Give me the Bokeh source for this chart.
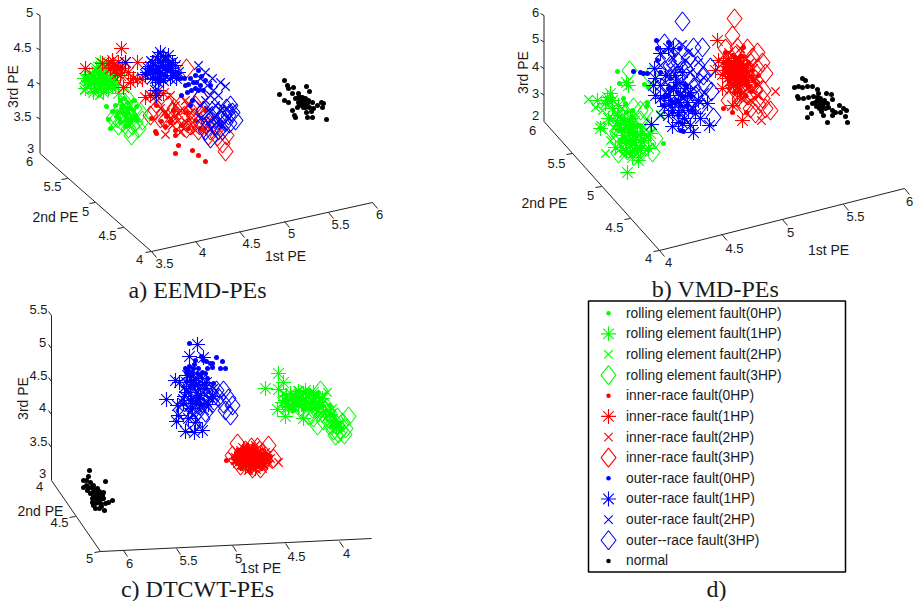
from bokeh.plotting import figure
from bokeh.models import Range1d
from bokeh.core.properties import value
from bokeh.embed import file_html
from bokeh.resources import INLINE

A_ROLL_0 = [(106,106),(108,119),(110,128),(125,115),(130,108),(118,112),(125,120),(135,115),(122,105),(128,125),(120,100),(132,120),(126,108),(115,105),(123,112),(129,118),(136,106),(119,118),(127,102),(133,110),(121,108),(125,126),(130,122),(116,116),(124,98),(137,120),(128,113),(120,122),(112,111),(134,100)]
A_ROLL_1 = [(100,62),(92,75),(85,88),(95,85),(105,78),(112,72),(98,72),(88,80),(108,88),(115,85),(103,92),(93,92),(120,70),(84,78),(110,65),(118,93),(100,82),(106,84),(94,80),(102,70),(97,78),(103,75),(110,78),(91,84),(98,88),(107,70),(114,80),(101,88),(96,68),(89,74),(104,82),(112,84)]
A_ROLL_2 = [(84,90),(92,88),(90,78),(100,85),(108,80),(95,70),(113,76),(105,90),(88,84),(100,76),(118,82),(96,92),(110,70),(103,65),(98,88),(106,74),(92,82),(102,80),(94,75),(110,86),(86,78),(116,72),(99,95),(104,68)]
A_ROLL_3 = [(131,135),(120,110),(135,122),(128,128),(117,118),(125,103),(140,112),(134,108),(122,122),(130,115),(113,118),(142,120),(126,97),(138,128),(118,125),(127,110),(124,116),(132,125)]
A_INNER_0 = [(178,145),(175,153),(192,150),(198,155),(205,161),(155,131),(156,133),(151,118),(161,121),(165,126),(166,116),(175,130),(175,135),(181,125),(156,105),(195,120),(173,110),(186,112),(205,110),(188,128),(200,128),(170,122)]
A_INNER_1 = [(121,48),(85,68),(102,63),(117,67),(137,62),(125,62),(137,79),(123,87),(145,97),(163,93),(113,65),(110,68),(118,62),(128,72),(120,75),(142,79),(133,78),(112,60),(115,70),(108,63),(122,68),(130,82),(117,73),(150,95),(158,90)]
A_INNER_2 = [(165,134),(150,95),(175,105),(185,100),(190,112),(170,118),(180,110),(160,108),(195,130),(205,120),(170,95),(210,128),(200,105),(186,122),(178,120),(165,112),(192,122),(183,128),(172,125),(198,115),(188,105),(175,115),(157,100),(203,130),(180,132)]
A_INNER_3 = [(186,68),(225,151),(217,136),(226,135),(160,118),(150,115),(172,112),(182,118),(190,125),(200,122),(205,115),(168,105),(180,105),(210,130),(195,105),(200,97),(222,143),(208,135),(155,110),(190,110),(176,120),(215,127),(198,130),(165,120),(186,128),(174,108),(194,118)]
A_OUTER_0 = [(181,95),(190,105),(198,70),(185,85),(193,82),(198,90),(190,78),(200,85),(205,80),(195,75),(187,92),(195,88),(203,90),(210,85),(180,78),(192,100),(176,76),(172,72),(188,84),(196,82),(191,90),(184,78),(178,73),(201,76)]
A_OUTER_1 = [(160,52),(155,65),(165,60),(150,72),(170,68),(160,72),(148,68),(175,65),(158,60),(165,75),(172,75),(155,90),(152,78),(145,74),(168,55),(178,72),(125,62),(156,95),(162,66),(155,72),(168,64),(160,62),(152,62),(163,80),(158,68),(163,56),(150,66),(172,62),(167,70),(155,78),(160,76),(147,72),(176,78),(153,70),(165,66),(157,56),(170,78),(158,82)]
A_OUTER_2 = [(198,65),(225,86),(220,82),(212,78),(205,72),(213,90),(207,85),(218,95),(200,78),(220,110),(205,100),(215,105),(228,118),(222,125),(210,120),(200,118),(232,108),(155,70),(165,68),(158,78),(150,60),(170,62),(162,74),(210,95),(216,116),(226,108),(208,110),(218,124)]
A_OUTER_3 = [(200,97),(205,130),(230,105),(228,115),(225,122),(218,112),(212,118),(222,130),(208,122),(235,120),(232,112),(215,125),(203,110),(226,108),(218,130),(210,138),(220,118),(214,108),(229,123),(224,114)]
A_NORMAL = [(284,80),(287,85),(279,94),(284,100),(288,88),(293,87),(306,86),(309,91),(298,93),(302,97),(300,100),(304,103),(298,102),(295,98),(292,93),(292,110),(294,115),(295,117),(306,112),(307,117),(312,117),(313,108),(317,105),(321,102),(323,103),(322,107),(326,119),(303,107),(307,103),(302,105),(297,107),(288,102),(308,100),(312,102),(305,98),(298,97),(302,102),(300,103),(305,107),(309,107),(303,100),(300,97),(306,102),(299,105),(311,111)]

B_ROLL_0 = [(663,143),(617,71),(619,83),(644,84),(648,87),(647,102),(646,106),(623,98),(610,100),(625,103),(632,117),(617,123),(640,140),(633,133),(628,120),(636,125),(622,130),(630,140),(642,132),(626,112),(635,148),(620,140),(628,132),(633,125),(625,125),(630,128),(637,135),(624,136),(632,110),(640,125),(627,142),(618,130),(622,118),(634,142),(640,148),(630,152)]
B_ROLL_1 = [(626,82),(628,85),(627,172),(607,97),(610,93),(597,100),(612,100),(600,128),(615,147),(632,157),(638,160),(640,150),(625,143),(627,127),(650,133),(648,148),(617,115),(637,133),(622,135),(632,142),(630,128),(620,125),(636,145),(605,103),(612,108),(626,150),(634,150),(629,135),(644,140),(624,120),(618,105),(640,135),(608,118),(630,118)]
B_ROLL_2 = [(588,99),(595,107),(605,153),(600,125),(607,100),(618,117),(610,140),(632,132),(660,114),(638,150),(625,137),(613,127),(643,127),(623,153),(630,145),(635,120),(620,145),(628,125),(602,110),(615,135),(626,128),(636,138),(645,135),(612,118),(622,108),(633,152),(618,150)]
B_ROLL_3 = [(629,70),(650,75),(645,110),(655,138),(652,152),(618,153),(610,128),(633,107),(640,120),(627,150),(647,127),(617,133),(637,140),(625,113),(648,143),(632,125),(630,135),(622,122),(642,150),(635,130),(615,120),(640,110),(628,145)]
B_INNER_0 = [(723,108),(746,112),(725,52),(743,47),(732,112),(733,72),(737,68),(740,75),(730,62),(728,77),(743,65),(737,82),(732,55),(747,72),(737,63),(733,78),(740,67),(727,68),(747,80),(735,72),(730,70),(742,72),(738,77),(734,66),(744,78),(732,62),(738,58),(741,62),(725,63),(729,72),(736,75),(744,70),(750,76),(733,85),(739,70),(745,84),(727,60),(752,70),(731,66),(735,80),(741,82),(746,66),(729,82),(738,88),(748,86),(735,58),(742,56),(726,72),(753,80),(740,92),(756,84),(751,91),(745,95),(734,92),(729,88),(758,75),(748,62)]
B_INNER_1 = [(717,40),(742,120),(722,88),(718,60),(715,70),(723,62),(730,68),(737,75),(733,85),(743,65),(727,78),(740,85),(735,60),(732,105),(728,58),(736,68),(744,76),(730,76),(740,60),(725,70),(733,64),(739,72),(746,70),(728,66),(735,80),(742,80),(731,72),(722,74),(748,82),(737,92)]
B_INNER_2 = [(775,91),(761,120),(740,48),(750,62),(755,78),(747,88),(737,97),(728,52),(757,95),(743,73),(733,68),(753,68),(740,65),(730,75),(743,100),(736,58),(745,58),(738,86),(748,72),(732,82),(726,65),(741,78),(735,70),(752,88),(744,92),(758,84),(729,90),(750,100),(736,104)]
B_INNER_3 = [(734,18),(732,35),(757,52),(762,62),(765,73),(763,90),(770,110),(765,108),(755,113),(752,57),(752,82),(737,47),(747,48),(757,68),(762,98),(743,105),(748,95),(725,48),(746,75),(741,90),(735,55),(755,90),(758,104),(750,108),(728,100)]
B_OUTER_0 = [(656,40),(668,42),(657,60),(657,48),(640,72),(643,73),(680,130),(683,131),(673,102),(663,105),(660,72),(670,78),(679,48),(687,105),(677,92),(667,95),(633,71),(647,73),(675,85),(683,96),(672,112),(690,95),(668,88),(680,105),(664,97),(692,110),(676,100),(685,84),(670,105),(678,115)]
B_OUTER_1 = [(660,53),(668,48),(673,48),(654,68),(653,85),(655,95),(651,124),(672,126),(682,123),(693,132),(709,125),(668,115),(690,125),(678,112),(695,113),(707,103),(660,98),(687,102),(665,75),(673,88),(680,95),(670,100),(685,88),(676,82),(668,95),(660,85),(678,102),(688,110),(698,100),(672,110),(664,106),(684,118),(700,118),(675,75),(682,72),(655,78),(690,92),(678,122)]
B_OUTER_2 = [(682,44),(672,57),(688,52),(660,65),(668,75),(680,82),(693,88),(703,77),(665,92),(675,105),(692,108),(683,98),(660,115),(700,102),(677,65),(690,72),(672,88),(684,90),(690,96),(678,100),(670,68),(698,62),(685,60),(665,82),(704,92),(695,78),(668,104),(682,110)]
B_OUTER_3 = [(682,21),(664,43),(693,47),(702,47),(688,58),(675,47),(710,67),(697,65),(711,91),(713,117),(703,75),(680,75),(670,65),(693,87),(683,90),(700,105),(675,95),(690,102),(685,68),(668,55),(705,85),(678,62),(695,95),(688,112)]
B_NORMAL = [(802,78),(805,80),(794,87),(798,86),(802,87),(807,86),(812,86),(817,89),(797,96),(798,98),(803,98),(808,97),(813,96),(818,93),(826,93),(831,94),(832,99),(807,107),(812,103),(817,100),(820,102),(823,103),(818,105),(822,107),(825,108),(828,107),(832,110),(839,105),(843,108),(846,110),(835,112),(840,112),(823,115),(811,113),(807,117),(827,122),(847,122),(845,116),(832,115),(817,97),(815,102),(820,98),(822,104),(819,108),(824,100),(816,106),(821,111),(827,103)]

C_ROLL_0 = [(320,398),(313,400),(302,400),(307,395),(287,403),(295,403),(322,405),(300,405),(310,408),(292,396),(298,398),(306,403),(316,395),(290,408),(326,410),(333,415),(338,422),(303,409),(312,403),(296,392),(285,398),(318,392),(329,405),(335,420),(341,428),(331,426),(293,410),(309,390)]
C_ROLL_1 = [(278,373),(265,388),(278,389),(283,382),(277,409),(285,416),(303,418),(285,400),(293,400),(303,393),(282,402),(290,393),(313,392),(298,405),(288,407),(308,397),(295,395),(318,402),(325,412),(300,398),(292,406),(310,404),(286,395),(305,390),(316,408),(322,398),(330,414),(336,426),(298,391)]
C_ROLL_2 = [(283,393),(292,402),(300,397),(308,402),(315,405),(322,395),(305,407),(295,408),(328,410),(320,413),(285,408),(310,392),(333,418),(327,392),(290,397),(298,390),(305,398),(314,398),(288,402),(302,404),(318,410),(325,418),(335,428),(330,422),(312,395),(296,400),(340,424),(332,408),(322,403)]
C_ROLL_3 = [(348,416),(344,434),(337,425),(340,430),(317,425),(330,420),(333,430),(323,420),(308,415),(320,390),(300,408),(337,417),(313,417),(342,422),(335,435),(327,412),(331,425),(326,407),(345,428),(338,433),(312,408),(304,400),(318,412)]
C_INNER_0 = [(226,460),(241,468),(237,463),(245,452),(255,450),(250,460),(262,458),(240,458),(250,467),(258,465),(268,460),(235,455),(247,445),(243,456),(253,455),(248,463),(257,459),(263,463),(250,452),(244,461),(238,450),(254,463),(260,453),(246,448),(252,457),(256,453),(241,454),(247,465),(235,460),(265,457),(260,461),(251,449),(244,450),(254,468),(239,461),(262,466),(270,456),(248,454),(242,464),(258,456),(233,458),(249,470),(253,445),(264,453),(236,452)]
C_INNER_1 = [(240,455),(248,458),(255,455),(262,463),(245,465),(252,450),(258,460),(238,462),(250,455),(265,456),(243,448),(255,468),(246,460),(252,462),(242,452),(236,458),(248,450),(260,452),(256,465),(244,457)]
C_INNER_2 = [(278,462),(270,458),(262,468),(248,470),(235,460),(240,450),(255,445),(265,452),(245,462),(253,462),(258,452),(232,456),(250,456),(244,455),(260,458),(256,465),(240,465),(268,464),(252,451),(246,448)]
C_INNER_3 = [(237,443),(257,447),(268,445),(273,458),(232,455),(245,450),(250,465),(260,468),(240,465),(256,458),(247,456),(265,460),(252,468),(243,458),(262,452),(251,447)]
C_OUTER_0 = [(189,343),(195,360),(201,356),(203,360),(210,363),(216,357),(212,363),(222,361),(220,368),(225,368),(207,368),(212,367),(188,370),(192,372),(185,368),(197,373),(200,375),(213,383),(193,368),(205,373),(187,374),(207,378),(190,376),(195,378),(189,366),(186,372),(198,368),(202,372),(191,381),(206,361),(194,364)]
C_OUTER_1 = [(197,344),(189,356),(203,357),(166,399),(177,405),(178,415),(176,421),(185,431),(194,432),(202,430),(179,382),(175,380),(188,418),(195,422),(195,385),(188,392),(202,378),(187,375),(190,400),(200,395),(193,380),(198,384),(184,396),(196,398),(190,386),(204,388),(186,382),(192,408),(199,403),(183,403),(206,382),(212,396),(208,404)]
C_OUTER_2 = [(190,378),(197,392),(205,395),(210,398),(182,398),(188,407),(198,408),(193,415),(205,385),(215,393),(183,388),(202,403),(192,398),(200,386),(195,402),(187,390),(208,390),(191,384),(199,396),(204,410),(190,412),(213,388),(207,402)]
C_OUTER_3 = [(223,390),(232,405),(230,415),(218,397),(223,403),(225,410),(212,403),(205,412),(197,402),(193,423),(198,388),(187,402),(210,392),(190,383),(183,410),(202,418),(192,394),(205,398),(198,410),(216,390),(228,398)]
C_NORMAL = [(89,470),(88,476),(83,480),(90,482),(86,485),(105,481),(93,485),(83,487),(87,490),(92,492),(97,488),(100,493),(93,495),(98,497),(103,492),(102,498),(112,500),(108,502),(105,503),(97,502),(93,505),(95,508),(99,508),(104,510),(100,503),(95,498),(92,498),(90,493),(97,493),(102,495),(93,488),(88,487),(98,500),(103,498),(96,492),(92,502),(94,490),(99,491),(96,497),(100,499),(91,487),(95,503),(101,506),(86,480)]

LEGEND_LABELS = ["rolling element fault(0HP)", "rolling element fault(1HP)", "rolling element fault(2HP)", "rolling element fault(3HP)",
                 "inner-race fault(0HP)", "inner-race fault(1HP)", "inner-race fault(2HP)", "inner-race fault(3HP)",
                 "outer-race fault(0HP)", "outer-race fault(1HP)", "outer-race fault(2HP)", "outer--race fault(3HP)", "normal"]

RED, GREEN, BLUE, BLACK = "#ff0000", "#00ff00", "#0000ff", "#000000"
TXT = "#1a1a1a"
SANS = value("Liberation Sans")
SERIF = value("Liberation Serif")
LW = 1.1

p = figure(width=914, height=601, output_backend="svg", toolbar_location=None,
           x_range=Range1d(0, 914), y_range=Range1d(601, 0), min_border=0)
p.axis.visible = False
p.grid.visible = False
p.outline_line_color = None
p.background_fill_color = "white"


def draw(pts, kind, color, dot=5.0):
    x = [a for a, _ in pts]
    y = [b for _, b in pts]
    if kind == "dot":
        p.scatter(x, y, marker="circle", size=dot, fill_color=color, line_color=None)
    elif kind == "star":
        p.scatter(x, y, marker="asterisk", size=15, fill_color=None, line_color=color, line_width=LW)
    elif kind == "x":
        p.scatter(x, y, marker="x", size=12, fill_color=None, line_color=color, line_width=LW)
    else:
        xs = [[a - 7.5, a, a + 7.5, a, a - 7.5] for a in x]
        ys = [[b, b - 9.5, b, b + 9.5, b] for b in y]
        p.multi_line(xs, ys, line_color=color, line_width=LW)


def panel(roll, inner, outer, normal):
    order = [(inner[0], "dot", RED), (inner[2], "x", RED), (inner[3], "dia", RED),
             (roll[0], "dot", GREEN), (roll[1], "star", GREEN), (roll[2], "x", GREEN), (roll[3], "dia", GREEN),
             (inner[1], "star", RED),
             (outer[0], "dot", BLUE), (outer[1], "star", BLUE), (outer[2], "x", BLUE), (outer[3], "dia", BLUE),
             (normal, "dot", BLACK)]
    for pts, k, c in order:
        draw(pts, k, c)


panel((A_ROLL_0, A_ROLL_1, A_ROLL_2, A_ROLL_3), (A_INNER_0, A_INNER_1, A_INNER_2, A_INNER_3), (A_OUTER_0, A_OUTER_1, A_OUTER_2, A_OUTER_3), A_NORMAL)
panel((B_ROLL_0, B_ROLL_1, B_ROLL_2, B_ROLL_3), (B_INNER_0, B_INNER_1, B_INNER_2, B_INNER_3), (B_OUTER_0, B_OUTER_1, B_OUTER_2, B_OUTER_3), B_NORMAL)
panel((C_ROLL_0, C_ROLL_1, C_ROLL_2, C_ROLL_3), (C_INNER_0, C_INNER_1, C_INNER_2, C_INNER_3), (C_OUTER_0, C_OUTER_1, C_OUTER_2, C_OUTER_3), C_NORMAL)


def axis_line(a, b, ticks, dx, dy):
    p.segment([a[0]], [a[1]], [b[0]], [b[1]], line_color="#222222", line_width=1)
    p.segment([t[0] for t in ticks], [t[1] for t in ticks],
              [t[0] + dx for t in ticks], [t[1] + dy for t in ticks], line_color="#222222", line_width=1)


def labels(items, size=13):
    p.text([i[1] for i in items], [i[2] for i in items], text=[i[0] for i in items], text_font=SANS,
           text_font_size=f"{size}px", text_align="center", text_baseline="middle", text_color=TXT)


# panel a
axis_line((39.5, 15), (39.5, 153), [(39.5, 15), (39.5, 49.5), (39.5, 84), (39.5, 118.5)], -3.5, -2)
axis_line((39.5, 153), (151, 251), [(67, 178), (95, 202), (123, 227), (151, 251)], -6, 1)
axis_line((151, 251), (372, 202), [(151, 251), (195, 241), (239, 231), (284, 221), (328, 212), (372, 202)], 5, 6)
labels([("5", 29, 12), ("4.5", 22, 47), ("4", 30, 83), ("3.5", 22, 116), ("3", 30, 148),
        ("6", 29, 161), ("5.5", 52, 186), ("5", 85, 211), ("4.5", 107, 235), ("4", 139, 259),
        ("3.5", 164, 263), ("4", 202, 252), ("4.5", 251, 243), ("5", 291, 233), ("5.5", 340, 224), ("6", 379, 214)])
labels([("2nd PE", 55, 216), ("1st PE", 285, 255)], 14)

# panel b
axis_line((543.5, 15), (543.5, 121), [(543.5, 15), (543.5, 41.5), (543.5, 68), (543.5, 94.5)], -3.5, -2)
axis_line((543.5, 121), (659, 250), [(572, 153), (601, 186), (630, 218), (659, 250)], -6, 1)
axis_line((659, 250), (904, 188), [(659, 250), (721.5, 234), (782, 219), (843, 204), (904, 188)], 5, 6)
labels([("6", 535, 12), ("5", 535, 38), ("4", 535, 66), ("3", 535, 93), ("2", 535, 115),
        ("6", 532, 130), ("5.5", 556, 163), ("5", 590, 195), ("4.5", 614, 227), ("4", 648, 258),
        ("4", 668, 262), ("4.5", 734, 248), ("5", 790, 232), ("5.5", 855, 216), ("6", 909, 201)])
labels([("2nd PE", 544, 202), ("1st PE", 828, 249)], 14)

# panel c
axis_line((51, 315), (51, 480), [(51, 315), (51, 348), (51, 381), (51, 414), (51, 447)], -3, -4)
axis_line((51, 480), (100, 551), [(75, 516), (100, 551)], -6, 1)
axis_line((100, 551), (371, 538), [(123, 550), (176, 548), (232, 545), (285, 543), (339, 541)], 4, 6)
labels([("5.5", 38, 309), ("5", 42, 342), ("4.5", 38, 375), ("4", 42, 407), ("3.5", 38, 441), ("3", 42, 473),
        ("4", 39, 486), ("4.5", 59, 522), ("5", 89, 558),
        ("6", 129, 563), ("5.5", 188, 560), ("5", 238, 558), ("4.5", 296, 556), ("4", 346, 553)])
labels([("2nd PE", 40, 510), ("1st PE", 260, 567)], 14)

# vertical titles
p.text([12, 522, 22], [86, 72, 398], text=["3rd PE"] * 3, angle=3.14159265 / 2, text_font=SANS, text_font_size="14px",
       text_align="center", text_baseline="middle", text_color=TXT)

# captions
p.text([197, 715, 197, 716], [289, 288, 588, 588], text=["a) EEMD-PEs", "b) VMD-PEs", "c) DTCWT-PEs", "d)"],
       text_font=SERIF, text_font_size="24px", text_align="center", text_baseline="middle", text_color=TXT)

# legend panel
p.quad(left=[588], right=[845], top=[300.5], bottom=[571.5], fill_color="white", line_color="black", line_width=1.5)
rows = [312.7 + 20.64 * i for i in range(13)]
kinds = ["dot", "star", "x", "dia"] * 3 + ["dot"]
colors = [GREEN] * 4 + [RED] * 4 + [BLUE] * 4 + [BLACK]
for y, k, c in zip(rows, kinds, colors):
    draw([(608, y)], k, c, dot=4.5)
p.text([625.5] * 13, rows, text=LEGEND_LABELS, text_font=SANS, text_font_size="13.8px",
       text_align="left", text_baseline="middle", text_color=TXT)

open("out.html", "w").write(file_html(p, INLINE))
